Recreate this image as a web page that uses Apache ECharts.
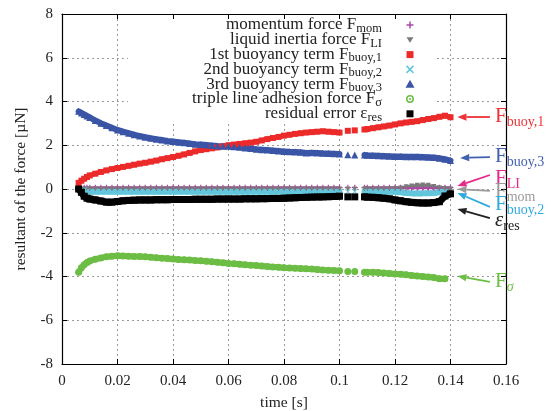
<!DOCTYPE html>
<html>
<head>
<meta charset="utf-8">
<script src="https://cdn.jsdelivr.net/npm/echarts@6/dist/echarts.min.js"></script>
<style>
html, body { margin: 0; padding: 0; background: #fff; }
#chart { width: 551px; height: 411px; }
</style>
</head>
<body>
<div id="chart"></div>
<script>
// Sample times [s]; null entries in the series break the bands where no data was recorded.
const time = [0.006,0.007,0.008,0.009,0.010,
  0.012,0.014,0.016,0.018,0.020,0.022,0.024,0.026,0.028,0.030,0.032,0.034,0.036,0.038,0.040,
  0.042,0.044,0.046,0.048,0.050,0.052,0.054,0.056,0.058,0.060,0.062,0.064,0.066,0.068,0.070,
  0.072,0.074,0.076,0.078,0.080,0.082,0.084,0.086,0.088,0.090,0.092,0.094,0.096,0.098,0.100,
  0.1015,0.103,0.104,0.1055,0.107,
  0.109,0.110,
  0.112,0.114,0.116,0.118,0.120,0.122,0.124,0.126,0.128,0.130,0.132,0.134,0.136,0.138,0.140];

// Forces [µN]
const fMom = [null,null,0.06,0.06,0.06,
  0.06,0.06,0.06,0.06,0.06,0.06,0.06,0.06,0.06,0.06,0.06,0.06,0.06,0.06,0.06,
  0.06,0.06,0.06,0.06,0.06,0.06,0.06,0.06,0.06,0.06,0.06,0.06,0.06,0.06,0.06,
  0.06,0.06,0.06,0.06,0.06,0.06,0.06,0.06,0.06,0.06,0.06,0.06,0.06,0.06,0.06,
  null,0.06,null,0.06,null,
  0.06,0.06,
  0.06,0.06,0.06,0.06,0.06,0.06,0.06,0.06,0.06,0.06,0.06,0.06,0.06,0.06,0.06];

const fLI = [null,null,0.0,0.0,0.0,
  0.0,0.0,0.0,0.0,0.0,0.0,0.0,0.0,0.0,0.0,0.0,0.0,0.0,0.0,0.0,
  0.0,0.0,0.0,0.0,0.0,0.0,0.0,0.0,0.0,0.0,0.0,0.0,0.0,0.0,0.0,
  0.0,0.0,0.0,0.0,0.0,0.0,0.0,0.0,0.0,0.0,0.0,0.0,0.0,0.0,0.0,
  null,0.0,null,0.0,null,
  0.0,0.0,
  0.0,0.0,0.0,0.01,0.02,0.05,0.10,0.14,0.17,0.18,0.17,0.12,0.06,0.02,0.0];

const fBuoy1 = [0.28,0.38,0.47,0.55,0.62,
  0.70,0.78,0.85,0.91,0.96,1.01,1.06,1.11,1.16,1.20,1.25,1.30,1.36,1.41,1.46,
  1.52,1.58,1.65,1.72,1.78,1.82,1.86,1.90,1.95,2.00,2.03,2.06,2.09,2.12,2.16,
  2.22,2.28,2.33,2.38,2.44,2.48,2.52,2.55,2.58,2.60,2.62,2.64,2.62,2.60,2.58,
  null,2.66,null,2.68,null,
  2.72,2.74,
  2.78,2.82,2.86,2.90,2.95,3.00,3.04,3.07,3.10,3.15,3.20,3.24,3.30,3.35,3.28];

const fBuoy2 = [null,null,-0.05,-0.10,-0.12,
  -0.12,-0.13,-0.12,-0.12,-0.13,-0.12,-0.12,-0.13,-0.12,-0.12,-0.12,-0.13,-0.12,-0.12,-0.12,
  -0.13,-0.12,-0.12,-0.12,-0.13,-0.12,-0.12,-0.12,-0.13,-0.12,-0.12,-0.12,-0.13,-0.12,-0.12,
  -0.12,-0.13,-0.12,-0.12,-0.12,-0.13,-0.12,-0.12,-0.12,-0.13,-0.12,-0.12,-0.12,-0.13,-0.12,
  null,-0.12,null,-0.12,null,
  -0.12,-0.12,
  -0.12,-0.12,-0.13,-0.13,-0.13,-0.15,-0.18,-0.20,-0.20,-0.20,-0.19,-0.18,-0.15,-0.12,null];

const fBuoy3 = [3.55,3.48,3.41,3.34,3.27,
  3.13,3.01,2.90,2.80,2.70,2.62,2.55,2.48,2.42,2.37,2.32,2.28,2.24,2.20,2.17,
  2.14,2.11,2.08,2.05,2.03,2.01,1.99,1.97,1.96,1.95,1.93,1.91,1.88,1.85,1.82,
  1.80,1.78,1.76,1.74,1.72,1.70,1.69,1.68,1.65,1.66,1.65,1.63,1.62,1.61,1.60,
  null,1.57,null,1.56,null,
  1.55,1.54,
  1.53,1.52,1.51,1.50,1.49,1.49,1.48,1.47,1.47,1.46,1.45,1.44,1.41,1.36,1.30];

const fSigma = [-3.80,-3.60,-3.46,-3.36,-3.29,
  -3.21,-3.15,-3.10,-3.07,-3.05,-3.06,-3.07,-3.08,-3.09,-3.10,-3.12,-3.14,-3.16,-3.18,-3.20,
  -3.22,-3.23,-3.25,-3.27,-3.28,-3.30,-3.32,-3.35,-3.37,-3.40,-3.42,-3.44,-3.46,-3.48,-3.50,
  -3.52,-3.54,-3.56,-3.58,-3.60,-3.61,-3.62,-3.63,-3.65,-3.66,-3.68,-3.70,-3.71,-3.72,-3.74,
  null,-3.77,null,-3.77,null,
  -3.80,-3.80,
  -3.81,-3.82,-3.84,-3.86,-3.88,-3.90,-3.92,-3.95,-3.98,-4.00,-4.02,-4.05,-4.10,-4.10,null];

const epsRes = [0.00,-0.15,-0.33,-0.42,-0.46,
  -0.50,-0.55,-0.60,-0.60,-0.57,-0.54,-0.52,-0.51,-0.50,-0.50,-0.50,-0.49,-0.49,-0.49,-0.48,
  -0.48,-0.48,-0.48,-0.47,-0.47,-0.47,-0.47,-0.46,-0.46,-0.46,-0.46,-0.46,-0.45,-0.45,-0.45,
  -0.44,-0.44,-0.43,-0.43,-0.42,-0.41,-0.40,-0.39,-0.38,-0.37,-0.36,-0.36,-0.35,-0.34,-0.33,
  null,-0.36,null,-0.36,null,
  -0.36,-0.37,
  -0.38,-0.40,-0.42,-0.45,-0.50,-0.54,-0.58,-0.61,-0.63,-0.64,-0.64,-0.62,-0.58,-0.32,-0.22];

const xTicks = { min: 0, max: 0.16, step: 0.02 };
const yTicks = { min: -8, max: 8, step: 2 };

const SERIF = '"Liberation Serif", "DejaVu Serif", serif';
const INK = '#222';

const C = {
  mom: '#a94aa3',
  li: '#7a7a7a',
  b1: '#ec2a2a',
  b2: '#62c6dc',
  b3: '#3a55a6',
  sig: '#6cbd44',
  res: '#000000'
};

function pairs(vals) { return time.map((t, i) => [t, vals[i]]); }

function band(name, vals, color, width, symbol, size, extra) {
  return Object.assign({
    type: 'line', name: name, data: pairs(vals),
    showSymbol: true, showAllSymbol: true, symbol: symbol, symbolSize: size,
    connectNulls: false, animation: false, silent: true,
    lineStyle: { color: color, width: width, cap: 'round', join: 'round' },
    itemStyle: { color: color },
    emphasis: { disabled: true }
  }, extra || {});
}

const PLUS = 'path://M4,0h2v4h4v2h-4v4h-2v-4h-4v-2h4z';
const CROSS = 'path://M1,0L5,4L9,0L10,1L6,5L10,9L9,10L5,6L1,10L0,9L4,5L0,1z';

const axisCommon = {
  type: 'value',
  axisLine: { show: true, onZero: false, lineStyle: { color: '#000', width: 1.2 } },
  axisTick: { show: true, inside: true, length: 5, lineStyle: { color: '#000', width: 1 } },
  splitLine: { show: false }
};

const chart = echarts.init(document.getElementById('chart'), null, { renderer: 'canvas' });

chart.setOption({
  animation: false,
  backgroundColor: '#fff',
  grid: { left: 62, right: 45, top: 14, bottom: 47, show: false, containLabel: false, outerBoundsMode: 'none' },
  xAxis: [
    Object.assign({}, axisCommon, {
      min: xTicks.min, max: xTicks.max, interval: xTicks.step, position: 'bottom',
      axisLabel: { margin: 10, color: INK, fontFamily: SERIF, fontSize: 15 },
      splitLine: { show: true, lineStyle: { color: '#9a9a9a', width: 1, type: [2, 3] } },
      name: 'time [s]', nameLocation: 'middle', nameGap: 31,
      nameTextStyle: { color: INK, fontFamily: SERIF, fontSize: 15.5 }
    }),
    Object.assign({}, axisCommon, {
      min: xTicks.min, max: xTicks.max, interval: xTicks.step, position: 'top',
      axisLabel: { show: false }
    })
  ],
  yAxis: [
    Object.assign({}, axisCommon, {
      min: yTicks.min, max: yTicks.max, interval: yTicks.step, position: 'left',
      axisLabel: { margin: 9, color: INK, fontFamily: SERIF, fontSize: 15 },
      splitLine: { show: true, lineStyle: { color: '#9a9a9a', width: 1, type: [2, 3] } },
      name: 'resultant of the force [µN]', nameLocation: 'middle', nameGap: 33,
      nameTextStyle: { color: INK, fontFamily: SERIF, fontSize: 15.5 }
    }),
    Object.assign({}, axisCommon, {
      min: yTicks.min, max: yTicks.max, interval: yTicks.step, position: 'right',
      axisLabel: { show: false }
    })
  ],
  series: [
    band('momentum force', fMom, C.mom, 3, PLUS, 6),
    band('liquid inertia force', fLI, C.li, 3, 'triangle', 5, { symbolRotate: 180 }),
    band('1st buoyancy term', fBuoy1, C.b1, 5, 'rect', 6),
    band('2nd buoyancy term', fBuoy2, C.b2, 6, CROSS, 6),
    band('3rd buoyancy term', fBuoy3, C.b3, 6, 'triangle', 7),
    band('triple line adhesion force', fSigma, C.sig, 6, 'circle', 7),
    band('residual error', epsRes, C.res, 7, 'rect', 7)
  ]
});

// ---- key (opaque box, right-aligned labels with subscripts, sample markers) ----
const keyRows = [
  { main: 'momentum force F', sub: 'mom', mark: 'plus', color: C.mom },
  { main: 'liquid inertia force F', sub: 'LI', mark: 'down', color: C.li },
  { main: '1st buoyancy term F', sub: 'buoy,1', mark: 'square', color: C.b1 },
  { main: '2nd buoyancy term F', sub: 'buoy,2', mark: 'cross', color: C.b2 },
  { main: '3rd buoyancy term F', sub: 'buoy,3', mark: 'up', color: C.b3 },
  { main: 'triple line adhesion force F', sub: 'σ', mark: 'ring', color: C.sig },
  { main: 'residual error ε', sub: 'res', mark: 'square', color: C.res }
];

const g = [];
g.push({ type: 'rect', shape: { x: 128, y: 19, width: 309, height: 103 }, style: { fill: '#fff' }, z: 1, silent: true });

const keyTop = 25, keyStep = 14.8, textRight = 382, markX = 410;
keyRows.forEach((r, i) => {
  const y = keyTop + i * keyStep;
  g.push({
    type: 'text', x: textRight, y: y, z: 20, silent: true,
    style: {
      text: '{m|' + r.main + '}{s|' + r.sub + '}',
      align: 'right', verticalAlign: 'middle', textAlign: 'right', textVerticalAlign: 'middle',
      rich: {
        m: { fontFamily: SERIF, fontSize: 17, lineHeight: 20, fill: INK, color: INK, verticalAlign: 'middle' },
        s: { fontFamily: SERIF, fontSize: 12.5, lineHeight: 12, fill: INK, color: INK, verticalAlign: 'bottom' }
      }
    }
  });
  const c = r.color;
  if (r.mark === 'plus') {
    g.push({ type: 'line', z: 20, shape: { x1: markX - 3.5, y1: y, x2: markX + 3.5, y2: y }, style: { stroke: c, lineWidth: 1.5 } });
    g.push({ type: 'line', z: 20, shape: { x1: markX, y1: y - 3.5, x2: markX, y2: y + 3.5 }, style: { stroke: c, lineWidth: 1.5 } });
  } else if (r.mark === 'cross') {
    g.push({ type: 'line', z: 20, shape: { x1: markX - 3.5, y1: y - 3.5, x2: markX + 3.5, y2: y + 3.5 }, style: { stroke: c, lineWidth: 1.5 } });
    g.push({ type: 'line', z: 20, shape: { x1: markX - 3.5, y1: y + 3.5, x2: markX + 3.5, y2: y - 3.5 }, style: { stroke: c, lineWidth: 1.5 } });
  } else if (r.mark === 'down') {
    g.push({ type: 'polygon', z: 20, shape: { points: [[markX - 3.5, y - 2.5], [markX + 3.5, y - 2.5], [markX, y + 3]] }, style: { fill: c } });
  } else if (r.mark === 'up') {
    g.push({ type: 'polygon', z: 20, shape: { points: [[markX - 4.5, y + 3.5], [markX + 4.5, y + 3.5], [markX, y - 4.5]] }, style: { fill: c } });
  } else if (r.mark === 'square') {
    g.push({ type: 'rect', z: 20, shape: { x: markX - 3.5, y: y - 3.5, width: 7, height: 7 }, style: { fill: c } });
  } else if (r.mark === 'ring') {
    g.push({ type: 'circle', z: 20, shape: { cx: markX, cy: y, r: 3.2 }, style: { fill: '#fff', stroke: c, lineWidth: 1.5 } });
    g.push({ type: 'circle', z: 20, shape: { cx: markX, cy: y, r: 1 }, style: { fill: c } });
  }
});

// ---- labelled arrows pointing at the curve ends ----
const notes = [
  { main: 'F', sub: 'buoy,1', color: '#ec3338', tip: [0.1425, 3.29], tail: [0.1542, 3.29], ty: 116 },
  { main: 'F', sub: 'buoy,3', color: '#4361b1', tip: [0.1435, 1.42], tail: [0.1542, 1.46], ty: 156 },
  { main: 'F', sub: 'LI', color: '#e62a8b', tip: [0.1425, 0.14], tail: [0.1542, 0.64], ty: 178 },
  { main: 'F', sub: 'mom', color: '#9a9a9a', tip: [0.1425, 0.0], tail: [0.1542, -0.09], ty: 191 },
  { main: 'F', sub: 'buoy,2', color: '#2fa9e0', tip: [0.1425, -0.18], tail: [0.1542, -0.82], ty: 204 },
  { main: 'ε', sub: 'res', color: '#222222', tip: [0.1425, -0.91], tail: [0.1542, -1.33], ty: 220, italic: true },
  { main: 'F', sub: 'σ', color: '#6cbf45', tip: [0.1425, -3.98], tail: [0.1542, -4.25], ty: 281, subItalic: true }
];

notes.forEach(n => {
  const p = chart.convertToPixel({ xAxisIndex: 0, yAxisIndex: 0 }, n.tip);
  const q = chart.convertToPixel({ xAxisIndex: 0, yAxisIndex: 0 }, n.tail);
  const dx = p[0] - q[0], dy = p[1] - q[1];
  const len = Math.sqrt(dx * dx + dy * dy);
  const ux = dx / len, uy = dy / len;
  const hl = 9, hw = 3.6;
  const bx = p[0] - ux * hl, by = p[1] - uy * hl;
  g.push({ type: 'line', z: 20, silent: true, shape: { x1: q[0], y1: q[1], x2: bx, y2: by }, style: { stroke: n.color, lineWidth: 1.8 } });
  g.push({ type: 'polygon', z: 20, silent: true, shape: { points: [[p[0], p[1]], [bx - uy * hw, by + ux * hw], [bx + uy * hw, by - ux * hw]] }, style: { fill: n.color } });
  g.push({
    type: 'text', x: 495, y: n.ty, z: 20, silent: true,
    style: {
      text: '{m|' + n.main + '}{s|' + n.sub + '}',
      align: 'left', verticalAlign: 'middle', textAlign: 'left', textVerticalAlign: 'middle',
      rich: {
        m: { fontFamily: SERIF, fontSize: 21, lineHeight: 26, fill: n.color, color: n.color, fontStyle: n.italic ? 'italic' : 'normal', verticalAlign: 'middle' },
        s: { fontFamily: SERIF, fontSize: 14, lineHeight: 14, fill: n.color, color: n.color, fontStyle: n.subItalic ? 'italic' : 'normal', verticalAlign: 'bottom' }
      }
    }
  });
});

chart.setOption({ graphic: { elements: g } });
</script>
</body>
</html>
